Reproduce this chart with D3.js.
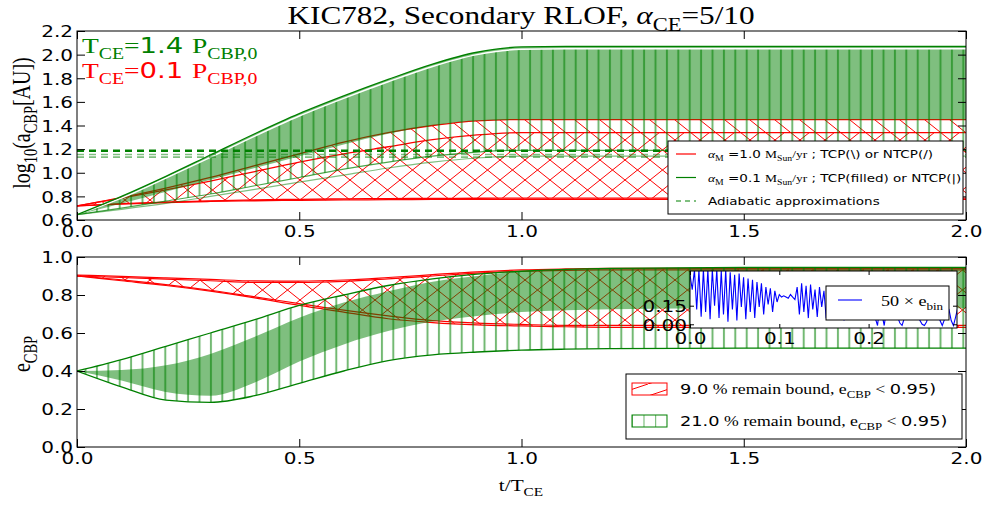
<!DOCTYPE html>
<html>
<head>
<meta charset="utf-8">
<script src="https://cdn.jsdelivr.net/npm/d3@7"></script>
<style>body{margin:0;background:#fff}</style>
</head>
<body>
<div id="chart"></div>
<script>
// time grid shared by all smooth curves (t / T_CE)
const tGrid = [0, 0.1, 0.2, 0.3, 0.4, 0.5, 0.6, 0.7, 0.8, 0.9, 1.0, 1.1, 1.2, 1.5, 2.0];

// top panel: log10(a_CBP [AU])
const aGreenUpper  = [0.645, 0.80, 0.97, 1.15, 1.33, 1.50, 1.65, 1.79, 1.92, 2.02, 2.065, 2.07, 2.07, 2.07, 2.07];
const aGreenUpper2 = [0.645, 0.785, 0.955, 1.13, 1.31, 1.48, 1.63, 1.77, 1.90, 2.00, 2.045, 2.05, 2.05, 2.05, 2.05];
const aGreenFillLo = [0.645, 0.74, 0.84, 0.94, 1.04, 1.14, 1.24, 1.33, 1.40, 1.44, 1.45, 1.45, 1.45, 1.45, 1.45];
const aGreenHatchLo = [0.645, 0.70, 0.76, 0.82, 0.89, 0.96, 1.03, 1.09, 1.14, 1.175, 1.19, 1.19, 1.19, 1.19, 1.19];
const aGreenLow2   = [0.645, 0.69, 0.74, 0.80, 0.86, 0.92, 0.98, 1.04, 1.09, 1.125, 1.14, 1.14, 1.14, 1.14, 1.14];
const aRedTcpHi    = [0.72, 0.79, 0.87, 0.96, 1.06, 1.16, 1.26, 1.34, 1.40, 1.44, 1.45, 1.45, 1.45, 1.45, 1.45];
const aRedNtcpHi   = [0.72, 0.785, 0.855, 0.93, 1.01, 1.09, 1.16, 1.22, 1.28, 1.32, 1.34, 1.34, 1.34, 1.34, 1.34];
const aRedTcpLo    = [0.72, 0.735, 0.748, 0.757, 0.763, 0.767, 0.77, 0.772, 0.774, 0.775, 0.775, 0.775, 0.775, 0.775, 0.775];
const aRedNtcpLo   = [0.72, 0.738, 0.752, 0.762, 0.77, 0.775, 0.779, 0.781, 0.783, 0.784, 0.785, 0.785, 0.785, 0.785, 0.785];
const adiabatic    = [1.187, 1.155, 1.132];

// bottom panel: e_CBP
const eRedHi   = [0.90, 0.892, 0.884, 0.875, 0.866, 0.866, 0.872, 0.885, 0.90, 0.915, 0.925, 0.93, 0.932, 0.932, 0.932];
const eRedHi2  = [0.905, 0.898, 0.89, 0.882, 0.874, 0.873, 0.879, 0.892, 0.907, 0.922, 0.932, 0.937, 0.94, 0.94, 0.94];
const eRedLo   = [0.90, 0.875, 0.85, 0.82, 0.785, 0.745, 0.71, 0.675, 0.655, 0.643, 0.637, 0.633, 0.63, 0.63, 0.63];
const eRedLo2  = [0.90, 0.88, 0.855, 0.825, 0.79, 0.755, 0.72, 0.69, 0.665, 0.652, 0.645, 0.64, 0.64, 0.64, 0.64];
const eGreenHi = [0.40, 0.46, 0.53, 0.60, 0.67, 0.745, 0.80, 0.85, 0.885, 0.91, 0.925, 0.935, 0.94, 0.945, 0.945];
const eGreenLo = [0.40, 0.317, 0.247, 0.235, 0.27, 0.335, 0.40, 0.455, 0.485, 0.50, 0.51, 0.515, 0.518, 0.52, 0.52];
const eFillHi  = [0.40, 0.405, 0.43, 0.49, 0.58, 0.68, 0.76, 0.82, 0.87, 0.90, 0.925, 0.935, 0.94, 0.945, 0.945];
const eFillLo  = [0.40, 0.35, 0.29, 0.27, 0.34, 0.45, 0.54, 0.61, 0.66, 0.69, 0.71, 0.72, 0.725, 0.73, 0.73];

// inset: 50 x e_bin, sampled every 0.0025 in t/T_CE
const ebinStep = 0.0025;
const ebin50 = [
  0.40, 0.28, 0.44, 0.12, 0.44, 0.06, 0.44, 0.10, 0.44, 0.04,
  0.44, 0.15, 0.44, 0.05, 0.43, 0.08, 0.44, 0.02, 0.42, 0.12,
  0.40, 0.03, 0.41, 0.14, 0.38, 0.04, 0.37, 0.10, 0.36, 0.05,
  0.34, 0.14, 0.33, 0.08, 0.30, 0.16, 0.29, 0.10, 0.27, 0.18,
  0.24, 0.22, 0.23, 0.22, 0.21, 0.24, 0.22, 0.20, 0.30, 0.08,
  0.33, 0.10, 0.31, 0.05, 0.32, 0.12, 0.28, 0.06, 0.30, 0.14,
  0.27, 0.05, 0.26, 0.12, 0.24, 0.04, 0.25, 0.10, 0.22, 0.03,
  0.23, 0.06, 0.22, 0.10, 0.24, 0.05, 0.22, 0.12, 0.20, 0.06,
  0.22, 0.12, 0.20, 0.05, -0.01, 0.15, 0.08, -0.01, 0.12, 0.22,
  0.25, 0.20, 0.14, 0.06, 0.01, -0.01, 0.05, 0.14, 0.22, 0.26,
  0.24, 0.17, 0.09, 0.03, 0.00, -0.01, 0.02, 0.10, 0.18, 0.22,
  0.18, 0.10, 0.03, -0.01, 0.04, 0.13, 0.12, 0.03, -0.01, 0.06,
  0.14
];

const xTicks = [0, 0.5, 1.0, 1.5, 2.0];
const aTicks = [0.6, 0.8, 1.0, 1.2, 1.4, 1.6, 1.8, 2.0, 2.2];
const eTicks = [0.0, 0.2, 0.4, 0.6, 0.8, 1.0];
const insetXTicks = [0.0, 0.1, 0.2];
const insetYTicks = [0.00, 0.15];

const SANS = "DejaVu Sans";
const SERIF = "Liberation Serif";
const SX = 1.25; // figure was squashed vertically, so glyphs look wide

const width = 993, height = 506;
const svg = d3.select("#chart").append("svg")
  .attr("width", width).attr("height", height)
  .attr("viewBox", [0, 0, width, height]);
const defs = svg.append("defs");

function hatch(id, color, w, h, d, sw, op) {
  defs.append("pattern").attr("id", id)
    .attr("patternUnits", "userSpaceOnUse")
    .attr("width", w).attr("height", h)
    .append("path").attr("d", d)
    .attr("stroke", color).attr("stroke-width", sw)
    .attr("stroke-opacity", op).attr("fill", "none");
}
const P = 25, Q = 20;
hatch("h-fwd", "red", P, Q, `M0,${Q}L${P},0M${-P / 2},${Q / 2}L${P / 2},${-Q / 2}M${P / 2},${Q * 1.5}L${P * 1.5},${Q / 2}`, 1, 1);
hatch("h-back", "red", P, Q, `M0,0L${P},${Q}M${-P / 2},${Q / 2}L${P / 2},${Q * 1.5}M${P / 2},${-Q / 2}L${P * 1.5},${Q / 2}`, 1, 1);
hatch("h-vert", "green", 11.4, 20, "M5.7,0V20", 2, 0.55);
hatch("h-fwd-leg", "red", 36, 12, "M0,12L36,0", 1, 1);
hatch("h-vert-leg", "green", 11.7, 12, "M0,0V12", 1.5, 0.8);

const left = 77, right = 966;
const x = d3.scaleLinear().domain([0, 2]).range([left, right]);
const yTop = d3.scaleLinear().domain([0.6, 2.2]).range([220, 31]);
const yBot = d3.scaleLinear().domain([0, 1]).range([447, 257]);

// rich text: parts are {t, serif, sub, italic}
function rich(sel, parts, size) {
  let shift = 0;
  parts.forEach((p) => {
    const target = p.sub ? size * 0.28 : 0;
    const ts = sel.append("tspan").text(p.t)
      .attr("font-family", p.serif ? SERIF : SANS)
      .attr("font-size", p.sub ? size * 0.72 : size);
    if (p.italic) ts.attr("font-style", "italic");
    if (target !== shift) { ts.attr("dy", target - shift); shift = target; }
  });
  return sel;
}
function label(g, px, py, parts, size, opts = {}) {
  const rot = opts.rotate ? " rotate(-90)" : "";
  const sc = opts.rotate ? `scale(1,${SX})` : `scale(${SX},1)`;
  const t = g.append("text")
    .attr("transform", `translate(${px},${py})${rot} ${sc}`)
    .attr("text-anchor", opts.anchor || "start")
    .attr("fill", opts.color || "black");
  return rich(t, parts, size);
}

function series(arr) { return tGrid.map((t, i) => ({ t, v: arr[i] })); }
function bandData(hi, lo) { return tGrid.map((t, i) => ({ t, hi: hi[i], lo: lo[i] })); }

function drawPanel(y, top, bottom, id) {
  const g = svg.append("g");
  defs.append("clipPath").attr("id", id)
    .append("rect").attr("x", left).attr("y", top)
    .attr("width", right - left).attr("height", bottom - top);
  const plot = g.append("g").attr("clip-path", `url(#${id})`);
  const area = d3.area().x((d) => x(d.t)).y0((d) => y(d.lo)).y1((d) => y(d.hi)).curve(d3.curveMonotoneX);
  const line = d3.line().x((d) => x(d.t)).y((d) => y(d.v)).curve(d3.curveMonotoneX);
  return { g, plot, area, line };
}

function drawAxes(g, y, top, bottom, yTickVals, fmt) {
  const sizeAx = (sel) => sel.attr("font-size", 16).attr("font-family", SANS);
  g.append("g").attr("transform", `translate(0,${bottom})`)
    .call(d3.axisBottom(x).tickValues(xTicks).tickSize(-8).tickPadding(0).tickFormat(d3.format(".1f")))
    .call(sizeAx)
    .call((s) => s.select(".domain").remove())
    .call((s) => s.selectAll("text").attr("y", 0).attr("dy", "0.95em")
      .attr("transform", `translate(0,2) scale(${SX},1)`).attr("fill", "black"));
  g.append("g").attr("transform", `translate(0,${top})`)
    .call(d3.axisTop(x).tickValues(xTicks).tickSize(-8).tickFormat(""))
    .call((s) => s.select(".domain").remove());
  g.append("g").attr("transform", `translate(${left},0)`)
    .call(d3.axisLeft(y).tickValues(yTickVals).tickSize(-8).tickFormat(fmt))
    .call(sizeAx)
    .call((s) => s.select(".domain").remove())
    .call((s) => s.selectAll("text").attr("x", 0).attr("dy", "0.36em")
      .attr("transform", `translate(-4,0) scale(${SX},1)`).attr("fill", "black"));
  g.append("g").attr("transform", `translate(${right},0)`)
    .call(d3.axisRight(y).tickValues(yTickVals).tickSize(-8).tickFormat(""))
    .call((s) => s.select(".domain").remove());
  g.append("rect").attr("x", left).attr("y", top)
    .attr("width", right - left).attr("height", bottom - top)
    .attr("fill", "none").attr("stroke", "black").attr("stroke-width", 1);
}

// ---------- top panel ----------
const T = drawPanel(yTop, 31, 220, "clip-top");
T.plot.append("path").datum(bandData(aRedTcpHi, aRedTcpLo)).attr("d", T.area).attr("fill", "url(#h-back)");
T.plot.append("path").datum(bandData(aRedNtcpHi, aRedNtcpLo)).attr("d", T.area).attr("fill", "url(#h-fwd)");
[aRedTcpHi, aRedNtcpHi, aRedTcpLo, aRedNtcpLo].forEach((a) => {
  T.plot.append("path").datum(series(a)).attr("d", T.line)
    .attr("fill", "none").attr("stroke", "red").attr("stroke-width", 1.3);
});
T.plot.append("path").datum(bandData(aGreenUpper, aGreenFillLo)).attr("d", T.area)
  .attr("fill", "green").attr("fill-opacity", 0.5);
T.plot.append("path").datum(bandData(aGreenUpper2, aGreenHatchLo)).attr("d", T.area).attr("fill", "url(#h-vert)");
T.plot.append("path").datum(series(aGreenUpper2)).attr("d", T.line)
  .attr("fill", "none").attr("stroke", "white").attr("stroke-width", 1.5);
T.plot.append("path").datum(series(aGreenUpper)).attr("d", T.line)
  .attr("fill", "none").attr("stroke", "green").attr("stroke-width", 1.3);
T.plot.append("path").datum(series(aGreenHatchLo)).attr("d", T.line)
  .attr("fill", "none").attr("stroke", "green").attr("stroke-opacity", 0.7).attr("stroke-width", 1.2);
T.plot.append("path").datum(series(aGreenLow2)).attr("d", T.line)
  .attr("fill", "none").attr("stroke", "green").attr("stroke-opacity", 0.5).attr("stroke-width", 1.2);
adiabatic.forEach((v, i) => {
  T.plot.append("line").attr("x1", x(0)).attr("x2", x(2)).attr("y1", yTop(v)).attr("y2", yTop(v))
    .attr("stroke", "green").attr("stroke-width", i === 0 ? 2.5 : 1.6)
    .attr("stroke-opacity", i === 0 ? 1 : 0.5).attr("stroke-dasharray", "7,5");
});
drawAxes(T.g, yTop, 31, 220, aTicks, d3.format(".1f"));

// ---------- bottom panel ----------
const B = drawPanel(yBot, 257, 447, "clip-bot");
B.plot.append("path").datum(bandData(eRedHi, eRedLo)).attr("d", B.area).attr("fill", "url(#h-back)");
B.plot.append("path").datum(bandData(eRedHi2, eRedLo2)).attr("d", B.area).attr("fill", "url(#h-fwd)");
[eRedHi, eRedHi2, eRedLo, eRedLo2].forEach((a) => {
  B.plot.append("path").datum(series(a)).attr("d", B.line)
    .attr("fill", "none").attr("stroke", "red").attr("stroke-width", 1.2);
});
B.plot.append("path").datum(bandData(eFillHi, eFillLo)).attr("d", B.area)
  .attr("fill", "green").attr("fill-opacity", 0.5);
B.plot.append("path").datum(bandData(eGreenHi, eGreenLo)).attr("d", B.area).attr("fill", "url(#h-vert)");
[eGreenHi, eGreenLo].forEach((a) => {
  B.plot.append("path").datum(series(a)).attr("d", B.line)
    .attr("fill", "none").attr("stroke", "green").attr("stroke-width", 1.3);
});
drawAxes(B.g, yBot, 257, 447, eTicks, d3.format(".1f"));

// ---------- inset ----------
const iL = 690, iR = 957, iT = 271, iB = 328;
const xi = d3.scaleLinear().domain([0, 0.299]).range([iL, iR]);
const yi = d3.scaleLinear().domain([-0.03, 0.43]).range([iB, iT]);
const ig = svg.append("g");
ig.append("rect").attr("x", iL).attr("y", iT).attr("width", iR - iL).attr("height", iB - iT).attr("fill", "white");
defs.append("clipPath").attr("id", "clip-inset")
  .append("rect").attr("x", iL).attr("y", iT).attr("width", iR - iL).attr("height", iB - iT);
ig.append("path").attr("clip-path", "url(#clip-inset)")
  .datum(ebin50.map((v, i) => ({ t: i * ebinStep, v })))
  .attr("d", d3.line().x((d) => xi(d.t)).y((d) => yi(d.v)))
  .attr("fill", "none").attr("stroke", "blue").attr("stroke-width", 1.1);
ig.append("g").attr("transform", `translate(0,${iB})`)
  .call(d3.axisBottom(xi).tickValues(insetXTicks).tickSize(-4).tickPadding(0).tickFormat(d3.format(".1f")))
  .call((s) => s.attr("font-size", 16).attr("font-family", SANS))
  .call((s) => s.select(".domain").remove())
  .call((s) => s.selectAll("text").attr("y", 0).attr("dy", "0.95em")
    .attr("transform", `translate(0,1) scale(${SX},1)`).attr("fill", "black"));
ig.append("g").attr("transform", `translate(0,${iT})`)
  .call(d3.axisTop(xi).tickValues(insetXTicks).tickSize(-4).tickFormat(""))
  .call((s) => s.select(".domain").remove());
ig.append("g").attr("transform", `translate(${iL},0)`)
  .call(d3.axisLeft(yi).tickValues(insetYTicks).tickSize(-4).tickFormat(d3.format(".2f")))
  .call((s) => s.attr("font-size", 16).attr("font-family", SANS))
  .call((s) => s.select(".domain").remove())
  .call((s) => s.selectAll("text").attr("x", 0).attr("dy", "0.36em")
    .attr("transform", `translate(-3,0) scale(${SX},1)`).attr("fill", "black"));
ig.append("g").attr("transform", `translate(${iR},0)`)
  .call(d3.axisRight(yi).tickValues(insetYTicks).tickSize(-4).tickFormat(""))
  .call((s) => s.select(".domain").remove());
ig.append("rect").attr("x", iL).attr("y", iT).attr("width", iR - iL).attr("height", iB - iT)
  .attr("fill", "none").attr("stroke", "black");
// inset legend
ig.append("rect").attr("x", 826).attr("y", 286).attr("width", 123).attr("height", 34)
  .attr("fill", "white").attr("stroke", "black");
ig.append("line").attr("x1", 838).attr("x2", 862).attr("y1", 300).attr("y2", 300)
  .attr("stroke", "blue").attr("stroke-width", 1.1);
label(ig, 881, 306, [{ t: "50 × e", serif: true }, { t: "bin", serif: true, sub: true }], 14.5);

// ---------- legends ----------
const lg = svg.append("g");
lg.append("rect").attr("x", 668).attr("y", 141).attr("width", 295).attr("height", 73)
  .attr("fill", "white").attr("stroke", "black");
[["red", null], ["green", null], ["green", "5,4"]].forEach(([c, dash], i) => {
  lg.append("line").attr("x1", 676).attr("x2", 696).attr("y1", 154 + i * 23.5).attr("y2", 154 + i * 23.5)
    .attr("stroke", c).attr("stroke-width", 1.2).attr("stroke-dasharray", dash);
});
const LS = 10.8;
label(lg, 708, 158, [{ t: "α", serif: true, italic: true }, { t: "M", serif: true, sub: true },
  { t: " =1.0 " }, { t: "M", serif: true }, { t: "Sun", serif: true, sub: true }, { t: "/yr", serif: true },
  { t: " ; TCP(\\) or NTCP(/)" }], LS);
label(lg, 708, 182, [{ t: "α", serif: true, italic: true }, { t: "M", serif: true, sub: true },
  { t: " =0.1 " }, { t: "M", serif: true }, { t: "Sun", serif: true, sub: true }, { t: "/yr", serif: true },
  { t: " ; TCP(filled) or NTCP(|)" }], LS);
label(lg, 708, 205, [{ t: "Adiabatic approximations" }], LS);

lg.append("rect").attr("x", 626).attr("y", 374).attr("width", 336).attr("height", 65)
  .attr("fill", "white").attr("stroke", "black");
lg.append("rect").attr("x", 632).attr("y", 383).attr("width", 35).attr("height", 12)
  .attr("fill", "url(#h-fwd-leg)").attr("stroke", "red");
lg.append("rect").attr("x", 632).attr("y", 415).attr("width", 35).attr("height", 12)
  .attr("fill", "url(#h-vert-leg)").attr("stroke", "green");
label(lg, 680, 394, [{ t: "9.0" }, { t: " % remain bound, e", serif: true }, { t: "CBP", serif: true, sub: true },
  { t: " < ", serif: true }, { t: "0.95)" }], 14.2);
label(lg, 680, 426, [{ t: "21.0" }, { t: " % remain bound, e", serif: true }, { t: "CBP", serif: true, sub: true },
  { t: " < ", serif: true }, { t: "0.95)" }], 14.2);

// ---------- titles and labels ----------
label(svg, 521, 24, [{ t: "KIC782, Secondary RLOF, ", serif: true }, { t: "α", serif: true, italic: true },
  { t: "CE", serif: true, sub: true }, { t: "=5/10", serif: true }], 25, { anchor: "middle" });
label(svg, 82, 53, [{ t: "T", serif: true }, { t: "CE", serif: true, sub: true }, { t: "=", serif: true },
  { t: "1.4 " }, { t: "P", serif: true }, { t: "CBP,0", serif: true, sub: true }], 22, { color: "green" });
label(svg, 82, 78, [{ t: "T", serif: true }, { t: "CE", serif: true, sub: true }, { t: "=", serif: true },
  { t: "0.1 " }, { t: "P", serif: true }, { t: "CBP,0", serif: true, sub: true }], 22, { color: "red" });
label(svg, 30, 123, [{ t: "log", serif: true }, { t: "10", serif: true, sub: true }, { t: "(a", serif: true },
  { t: "CBP", serif: true, sub: true }, { t: "[AU])", serif: true }], 20, { rotate: true, anchor: "middle" });
label(svg, 30, 354, [{ t: "e", serif: true }, { t: "CBP", serif: true, sub: true }], 20, { rotate: true, anchor: "middle" });
label(svg, 521, 491, [{ t: "t/T", serif: true }, { t: "CE", serif: true, sub: true }], 17, { anchor: "middle" });
</script>
</body>
</html>
